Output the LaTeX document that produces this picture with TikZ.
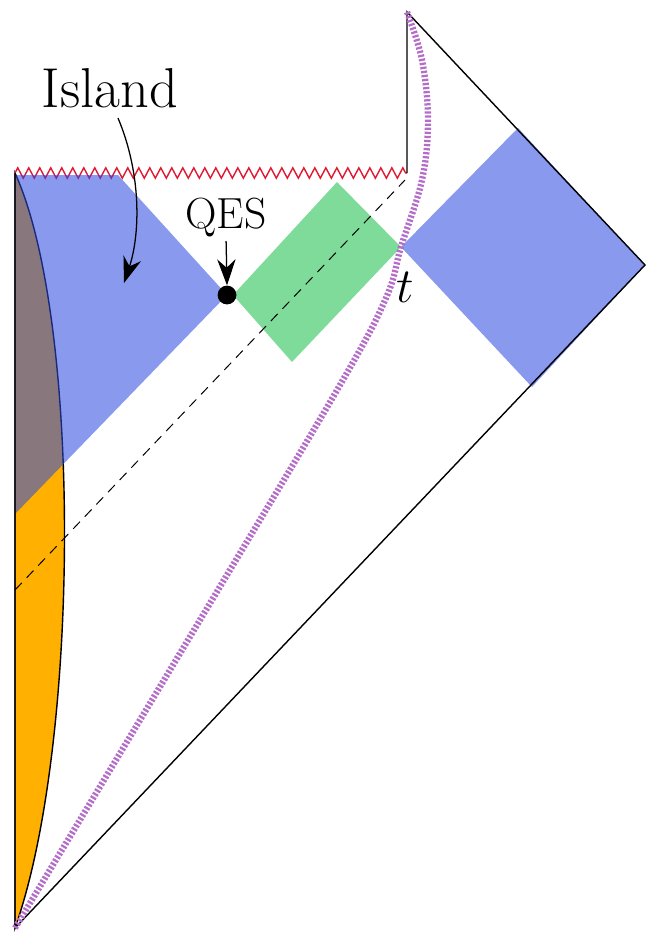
\RequirePackage{fix-cm}
\documentclass[tikz,border=0pt]{standalone}
\usetikzlibrary{arrows.meta,decorations.pathmorphing}
\definecolor{islandcol}{RGB}{45,75,225}
\definecolor{orangecol}{RGB}{255,176,0}
\definecolor{wedgecol}{RGB}{20,190,70}
\definecolor{singcol}{RGB}{225,25,50}
\definecolor{curvecol}{RGB}{180,110,200}

\begin{document}
\begin{tikzpicture}[x=0.025cm,y=-0.025cm,
  ar/.style={-{Stealth[length=6.5mm,width=4.6mm]},line width=0.9pt},
  lbl/.style={anchor=base,inner sep=0pt},
  edge/.style={line width=1pt},
  blu/.style={fill=islandcol,fill opacity=0.56},
  dot/.style={circle,fill=black,inner sep=0pt,minimum size=0.47cm},
]
\useasboundingbox (0,0) rectangle (646,934);

\coordinate (qes) at (227,295);
\coordinate (t) at (401,247);
\coordinate (top) at (407,12);
\coordinate (right) at (645,265);
\coordinate (bottom) at (15,928);

% entanglement wedge of the radiation, bulk side
\filldraw[fill=orangecol,edge] (15,173) .. controls (82,320) and (80,745) .. (bottom) -- cycle;
\draw[singcol,line width=1pt,decorate,
      decoration={zigzag,segment length=2.75mm,amplitude=1.3mm}] (15,173) -- (407,173);

% island and the two wedges
\fill[blu] (15,175) -- (118,175) -- (qes) -- (15,514) -- cycle;
\fill[wedgecol,fill opacity=0.55] (233,295) -- (337,182) -- (t) -- (292,362) -- cycle;
\fill[blu] (t) -- (518,128) -- (right) -- (532,387) -- cycle;

\draw[line width=0.7pt,dash pattern=on 7pt off 5pt] (15,590) -- (405,180);
\draw[edge] (15,173) -- (bottom) -- (right) -- (top) -- (407,173);

% brane trajectory
\draw[curvecol,line width=4.5pt,dash pattern=on 1.6pt off 1.3pt]
  plot[smooth,tension=0.6] coordinates {(bottom) (200,620) (340,385) (386,298)
    (t) (422,180) (428,120) (422,60) (top)};

\node[dot] (qesdot) at (qes) {};
\node[lbl,font=\fontsize{40}{44}\selectfont] (island) at (110,107) {Island};
\node[lbl,font=\fontsize{31}{34}\selectfont] (qeslabel) at (226,228) {QES};
\node[lbl,font=\fontsize{35}{38}\selectfont] (tlabel) at (405,302) {$t$};

\coordinate (islandtail) at (118,118);
\coordinate (islandtip) at (124,283);
\draw[ar] (islandtail) .. controls (142,175) and (140,235) .. (islandtip);
\draw[ar,shorten <=3pt] (qeslabel.south) -- (qesdot.north);
\end{tikzpicture}
\end{document}
